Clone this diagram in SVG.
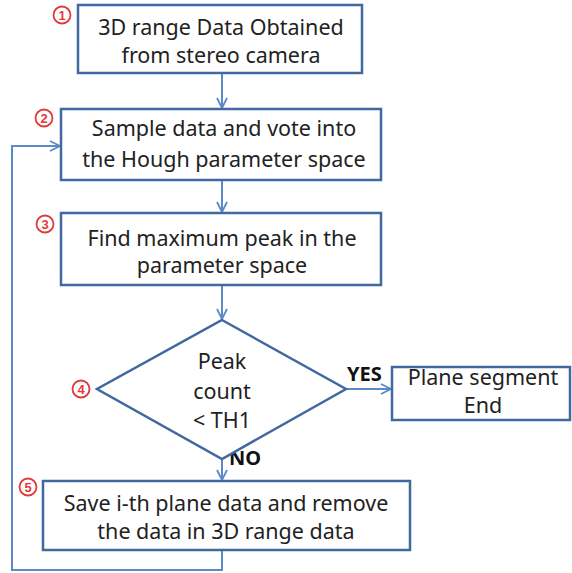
<svg xmlns="http://www.w3.org/2000/svg" width="572" height="573" viewBox="0 0 572 573">
  <style>
    .box { fill: #ffffff; stroke: #41689F; stroke-width: 2.5; }
    .lbl { font-family: "Noto Sans", "Open Sans", sans-serif; font-size: 21.5px; fill: #222222; text-anchor: middle; }
    .bold { font-family: "Noto Sans", "Open Sans", sans-serif; font-size: 20px; font-weight: bold; fill: #111111; }
    .wire { fill: none; stroke: #5A8AC8; stroke-width: 2; }
    .num circle { fill: #ffffff; stroke: #E03A3A; stroke-width: 1.8; }
    .num text { font-family: "Liberation Sans", Arial, sans-serif; font-size: 13px; font-weight: bold; fill: #E03A3A; text-anchor: middle; }
  </style>
  <defs>
    <marker id="arrow" viewBox="0 0 12 12" refX="11" refY="6" markerWidth="12" markerHeight="12" markerUnits="userSpaceOnUse" orient="auto">
      <path d="M1,1 L11,6 L1,11" fill="none" stroke="#5A8AC8" stroke-width="1.8"/>
    </marker>
  </defs>

  <g id="connectors">
    <line class="wire" x1="222" y1="73" x2="222" y2="108" marker-end="url(#arrow)"/>
    <line class="wire" x1="222" y1="180" x2="222" y2="212" marker-end="url(#arrow)"/>
    <line class="wire" x1="222" y1="285" x2="222" y2="319" marker-end="url(#arrow)"/>
    <line class="wire" x1="346" y1="389" x2="391" y2="389" marker-end="url(#arrow)"/>
    <line class="wire" x1="222" y1="459" x2="222" y2="480" marker-end="url(#arrow)"/>
    <polyline class="wire" points="222,550 222,570 12,570 12,146 60,146" marker-end="url(#arrow)"/>
    <text class="bold" x="347" y="381">YES</text>
    <text class="bold" x="229" y="465">NO</text>
  </g>

  <g id="step1">
    <rect class="box" x="78" y="5" width="284" height="68"/>
    <text class="lbl" x="221" y="35">3D range Data Obtained</text>
    <text class="lbl" x="221" y="63">from stereo camera</text>
    <g class="num"><circle cx="62" cy="15" r="8.5"/><text x="62" y="19.5">1</text></g>
  </g>

  <g id="step2">
    <rect class="box" x="61" y="109" width="320" height="71"/>
    <text class="lbl" x="224" y="136">Sample data and vote into</text>
    <text class="lbl" x="224" y="167">the Hough parameter space</text>
    <g class="num"><circle cx="44" cy="118" r="8.5"/><text x="44" y="122.5">2</text></g>
  </g>

  <g id="step3">
    <rect class="box" x="61" y="213" width="320" height="72"/>
    <text class="lbl" x="222" y="246">Find maximum peak in the</text>
    <text class="lbl" x="222" y="273">parameter space</text>
    <g class="num"><circle cx="45" cy="224" r="8.5"/><text x="45" y="228.5">3</text></g>
  </g>

  <g id="step4">
    <polygon class="box" points="222,320 346,389 222,459 97,389"/>
    <text class="lbl" x="222" y="369">Peak</text>
    <text class="lbl" x="222" y="399">count</text>
    <text class="lbl" x="222" y="428">&lt; TH1</text>
    <g class="num"><circle cx="81" cy="389" r="8.5"/><text x="81" y="393.5">4</text></g>
  </g>

  <g id="end">
    <rect class="box" x="392" y="367" width="178" height="53"/>
    <text class="lbl" x="483" y="385">Plane segment</text>
    <text class="lbl" x="483" y="413">End</text>
  </g>

  <g id="step5">
    <rect class="box" x="43" y="481" width="367" height="69"/>
    <text class="lbl" x="226" y="511">Save i-th plane data and remove</text>
    <text class="lbl" x="226" y="539">the data in 3D range data</text>
    <g class="num"><circle cx="28" cy="487" r="8.5"/><text x="28" y="491.5">5</text></g>
  </g>
</svg>
